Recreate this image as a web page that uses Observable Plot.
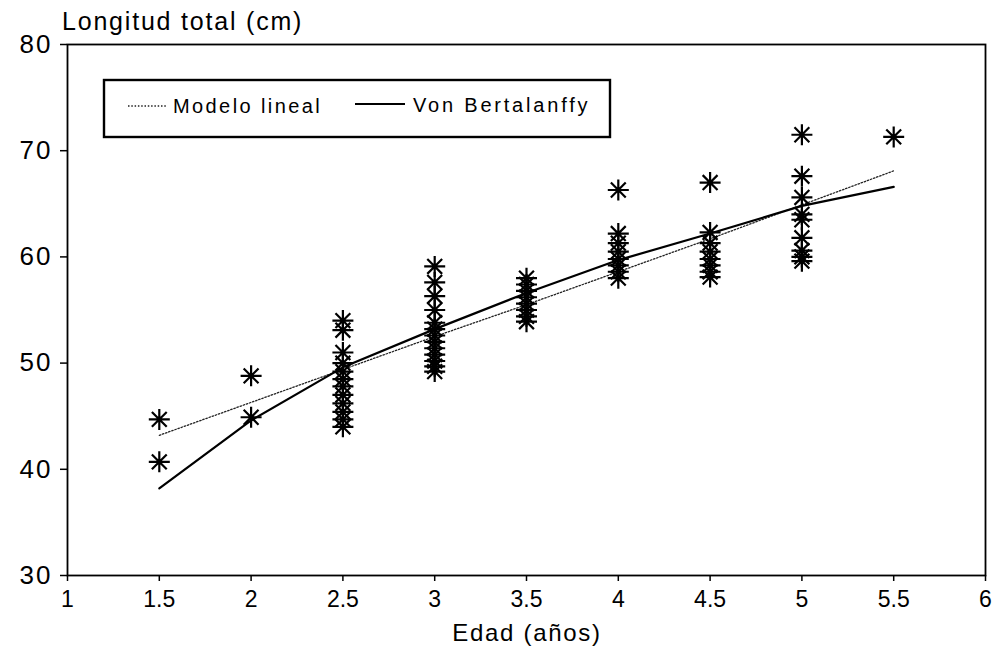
<!DOCTYPE html>
<html>
<head>
<meta charset="utf-8">
<script src="https://cdn.jsdelivr.net/npm/d3@7"></script>
<script src="https://cdn.jsdelivr.net/npm/@observablehq/plot@0.6"></script>
<style>
  html, body { margin: 0; padding: 0; background: #fff; }
  svg text { font-family: "Liberation Sans", Arial, sans-serif; }
</style>
</head>
<body>
<script>
// ---- data ----
const xTicks = [1, 1.5, 2, 2.5, 3, 3.5, 4, 4.5, 5, 5.5, 6];
const yTicks = [30, 40, 50, 60, 70, 80];

const obsAges = [1.5, 2, 2.5, 3, 3.5, 4, 4.5, 5, 5.5];
const obs15 = [44.7, 40.7];
const obs20 = [48.8, 44.9];
const obs25 = [54.0, 53.1, 51.0, 50.0, 49.2, 48.5, 47.8, 47.0, 46.2, 45.4, 44.7, 44.0];
const obs30 = [59.1, 57.6, 56.3, 55.0, 53.8, 53.2, 52.6, 52.0, 51.4, 50.8, 50.2, 49.7, 49.2];
const obs35 = [58.0, 57.4, 56.8, 56.2, 55.6, 55.0, 54.4, 53.9];
const obs40 = [66.3, 62.2, 61.3, 60.5, 59.8, 59.2, 58.6, 58.0];
const obs45 = [67.0, 62.3, 61.3, 60.5, 59.8, 59.2, 58.6, 58.1];
const obs50 = [71.5, 67.6, 65.6, 64.0, 63.5, 61.8, 60.6, 60.0, 59.6];
const obs55 = [71.3];
const obsGroups = [obs15, obs20, obs25, obs30, obs35, obs40, obs45, obs50, obs55];

const modelAges = [1.5, 2, 2.5, 3, 3.5, 4, 4.5, 5, 5.5];
const linealValues = [43.2, 46.3, 49.4, 52.5, 55.5, 58.6, 61.7, 64.9, 68.1];
const bertalanffyValues = [38.2, 44.6, 49.6, 53.2, 56.6, 59.7, 62.2, 64.8, 66.6];

const seriesNames = ["Modelo lineal", "Von Bertalanffy"];
const yLabel = "Longitud total (cm)";
const xLabel = "Edad (años)";

// ---- tables built from the arrays ----
const points = obsAges.flatMap((a, i) => obsGroups[i].map(v => ({age: a, len: v})));
const lineal = modelAges.map((a, i) => ({age: a, len: linealValues[i]}));
const bert = modelAges.map((a, i) => ({age: a, len: bertalanffyValues[i]}));

// 8-armed asterisk symbol
const star = {
  draw(ctx, size) {
    const r = Math.sqrt(size / Math.PI);
    const d = r * Math.SQRT1_2;
    ctx.moveTo(-r, 0); ctx.lineTo(r, 0);
    ctx.moveTo(0, -r); ctx.lineTo(0, r);
    ctx.moveTo(-d, -d); ctx.lineTo(d, d);
    ctx.moveTo(-d, d); ctx.lineTo(d, -d);
  }
};

const W = 997, H = 649;
const chart = Plot.plot({
  width: W,
  height: H,
  marginLeft: 67,
  marginRight: 12,
  marginTop: 44,
  marginBottom: 74,
  style: {background: "#fff", color: "#000", fontFamily: "Liberation Sans, Arial, sans-serif"},
  x: {domain: [1, 6]},
  y: {domain: [30, 80]},
  marks: [
    Plot.axisX({ticks: xTicks, tickFormat: d => String(d), tickSize: 6, tickPadding: 9,
                fontSize: 23, label: null, strokeWidth: 1.5}),
    Plot.axisY({ticks: yTicks, tickFormat: d => String(d), tickSize: 7, tickPadding: 8,
                fontSize: 26, label: null, strokeWidth: 1.5}),
    Plot.line(lineal, {x: "age", y: "len", stroke: "#222", strokeWidth: 1.3, strokeDasharray: "1.5,1.8"}),
    Plot.line(bert, {x: "age", y: "len", stroke: "#000", strokeWidth: 2.2}),
    Plot.dot(points, {x: "age", y: "len", symbol: star, r: 10.5, stroke: "#000", fill: "none", strokeWidth: 2.2}),
    Plot.frame({stroke: "#000", strokeWidth: 1.8})
  ]
});
document.body.appendChild(chart);

const svg = d3.select(chart);
// y tick label letter spacing
svg.selectAll("g[aria-label='y-axis tick label'] text").attr("letter-spacing", "2");

// axis titles
svg.append("text").attr("x", 62).attr("y", 30).attr("text-anchor", "start")
  .attr("font-size", 25).attr("letter-spacing", "1.8").attr("fill", "#000")
  .text(yLabel);
svg.append("text").attr("x", 527).attr("y", 641).attr("text-anchor", "middle")
  .attr("font-size", 24).attr("letter-spacing", "1.7").attr("fill", "#000")
  .text(xLabel);

// legend
const lg = svg.append("g").attr("text-anchor", "start");
lg.append("rect").attr("x", 104).attr("y", 80).attr("width", 506).attr("height", 57)
  .attr("fill", "#fff").attr("stroke", "#000").attr("stroke-width", 2.4);
lg.append("line").attr("x1", 128).attr("x2", 167).attr("y1", 106).attr("y2", 106)
  .attr("stroke", "#222").attr("stroke-width", 1.3).attr("stroke-dasharray", "1.5,1.8");
lg.append("text").attr("x", 173).attr("y", 113).attr("text-anchor", "start").attr("font-size", 20).attr("letter-spacing", "2.4")
  .attr("fill", "#000").text(seriesNames[0]);
lg.append("line").attr("x1", 355).attr("x2", 405).attr("y1", 104).attr("y2", 104)
  .attr("stroke", "#000").attr("stroke-width", 2.2);
lg.append("text").attr("x", 413).attr("y", 112).attr("text-anchor", "start").attr("font-size", 20).attr("letter-spacing", "2.8")
  .attr("fill", "#000").text(seriesNames[1]);
</script>
</body>
</html>
